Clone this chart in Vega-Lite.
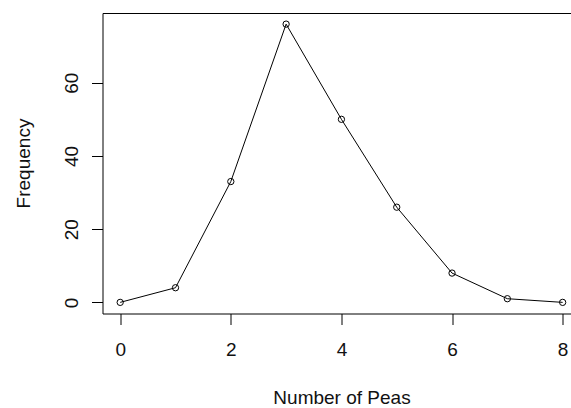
{
  "$schema": "https://vega.github.io/schema/vega-lite/v6.json",
  "width": 469,
  "height": 300.5,
  "autosize": {"type": "none"},
  "padding": {"left": 102.5, "top": 13, "right": 0, "bottom": 94.5},
  "background": "white",
  "config": {
    "view": {"stroke": "black", "strokeWidth": 1},
    "font": "Liberation Sans",
    "axis": {
      "domain": false,
      "grid": false,
      "tickColor": "black",
      "tickWidth": 1,
      "tickSize": 11,
      "labelFont": "Liberation Sans",
      "labelFontSize": 19,
      "labelColor": "#111",
      "titleFont": "Liberation Sans",
      "titleFontSize": 19,
      "titleFontWeight": "normal",
      "titleColor": "#111"
    }
  },
  "data": {
    "values": [
      {"peas": 0, "freq": 0},
      {"peas": 1, "freq": 4},
      {"peas": 2, "freq": 33},
      {"peas": 3, "freq": 76},
      {"peas": 4, "freq": 50},
      {"peas": 5, "freq": 26},
      {"peas": 6, "freq": 8},
      {"peas": 7, "freq": 1},
      {"peas": 8, "freq": 0}
    ]
  },
  "encoding": {
    "x": {
      "field": "peas",
      "type": "quantitative",
      "scale": {"domain": [-0.32, 8.16], "nice": false, "zero": false},
      "axis": {
        "values": [0, 2, 4, 6, 8],
        "title": "Number of Peas",
        "labelPadding": 16,
        "labelBaseline": "top",
        "labelFlush": false,
        "titleX": 239,
        "titleY": 89.5,
        "titleBaseline": "alphabetic",
        "titleAlign": "center"
      }
    },
    "y": {
      "field": "freq",
      "type": "quantitative",
      "scale": {"domain": [-3.04, 79.04], "nice": false, "zero": false},
      "axis": {
        "values": [0, 20, 40, 60],
        "title": "Frequency",
        "labelAngle": -90,
        "labelAlign": "center",
        "labelBaseline": "alphabetic",
        "labelPadding": 14,
        "labelFlush": false,
        "titleAngle": -90,
        "titleX": -69.5,
        "titleY": 150,
        "titleBaseline": "bottom",
        "titleAlign": "center"
      }
    }
  },
  "layer": [
    {"mark": {"type": "line", "color": "black", "strokeWidth": 1}},
    {"mark": {"type": "point", "shape": "circle", "filled": false, "color": "black", "strokeWidth": 1, "size": 40, "opacity": 1}}
  ]
}
